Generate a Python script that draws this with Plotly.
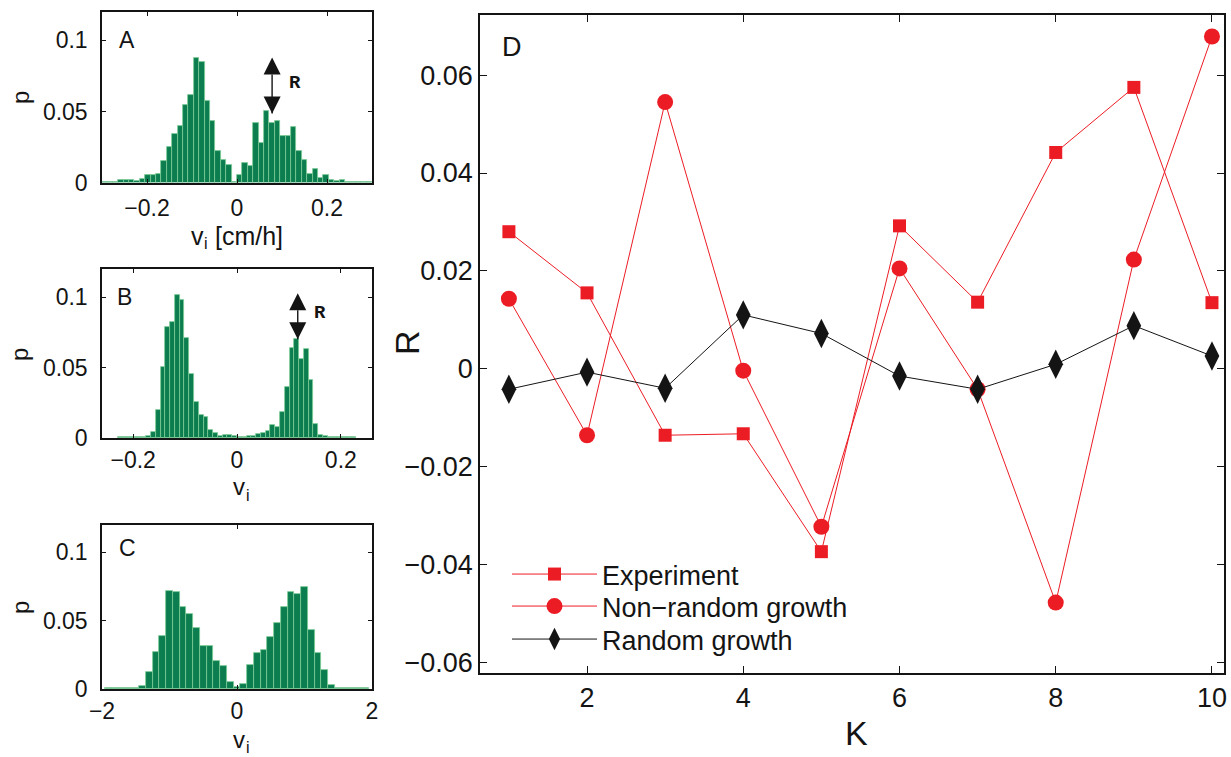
import numpy as np
import plotly.graph_objects as go

# ---------------- Panel D data ----------------
K = [1, 2, 3, 4, 5, 6, 7, 8, 9, 10]
R_experiment = [0.0280, 0.0155, -0.0136, -0.0133, -0.0374, 0.0292, 0.0136, 0.0442, 0.0575, 0.0135]
R_nonrandom = [0.0143, -0.0136, 0.0545, -0.0004, -0.0323, 0.0205, -0.0042, -0.0478, 0.0223, 0.0679]
R_random = [-0.0042, -0.0007, -0.0040, 0.0110, 0.0072, -0.0015, -0.0042, 0.0009, 0.0088, 0.0026]
series_names = ["Experiment", "Non\u2212random growth", "Random growth"]

# ---------------- Histogram A ----------------
A_start, A_width = -0.3, 0.012
A_p = [0.0005, 0.0005, 0.0005, 0.002, 0.002, 0.002, 0.001, 0.0024, 0.005, 0.005,
       0.0057, 0.015, 0.0253, 0.034, 0.0395, 0.0547, 0.0614, 0.0873, 0.085, 0.0577,
       0.043, 0.0225, 0.016, 0.012, 0.0005, 0.005, 0.0136, 0.0113, 0.042, 0.028,
       0.050, 0.042, 0.0435, 0.033, 0.033, 0.039, 0.0225, 0.016, 0.006, 0.0097,
       0.0034, 0.0055, 0.002, 0.001, 0.0015, 0.0005, 0.0005, 0.0005, 0.0005, 0.0005]

# ---------------- Histogram B ----------------
B_start, B_width = -0.23, 0.0092
B_p = [0.001, 0.001, 0.001, 0.001, 0.001, 0.001, 0.0012, 0.0045, 0.020, 0.0507,
       0.079, 0.0826, 0.1016, 0.0977, 0.0707, 0.0458, 0.0256, 0.0162, 0.015, 0.006,
       0.0033, 0.0016, 0.0023, 0.0023, 0.0014, 0.001, 0.001, 0.0012, 0.0016, 0.0026,
       0.0033, 0.005, 0.009, 0.008, 0.0185, 0.036, 0.064, 0.070, 0.056, 0.063,
       0.041, 0.010, 0.002, 0.0015, 0.001, 0.001, 0.0008, 0.0008, 0.0005, 0.0005]

# ---------------- Histogram C ----------------
C_start, C_width = -1.95, 0.1
C_p = [0.0005, 0.0005, 0.0005, 0.0005, 0.0005, 0.002, 0.0125, 0.027, 0.0387, 0.072,
       0.0713, 0.060, 0.055, 0.0449, 0.0316, 0.0314, 0.0203, 0.0169, 0.0049, 0.0012,
       0.0034, 0.0174, 0.026, 0.0287, 0.038, 0.048, 0.060, 0.071, 0.0698, 0.0745,
       0.043, 0.0267, 0.014, 0.003, 0.0008, 0.0005, 0.0005, 0.0005, 0.0005]

# Double arrows marking R (x position, lower tip, upper tip) and label position
A_arrow = dict(x=0.078, y_low=0.0486, y_high=0.088, label_x=0.129, label_y=0.0697)
B_arrow = dict(x=0.117, y_low=0.0702, y_high=0.1028, label_x=0.160, label_y=0.0887)

W, H = 1231, 757
FONT = "Liberation Sans, Arial, Helvetica, sans-serif"
NARROW = "Liberation Sans Narrow, Arial Narrow, Liberation Sans, sans-serif"
MONO = "Courier New, Nimbus Mono PS, FreeMono, DejaVu Serif"
RED = "rgb(236,28,36)"
BLACK = "rgb(20,20,20)"
GREEN = "rgb(11,125,79)"
GREEN_EDGE = "rgb(125,205,150)"


def px_x(v):
    return v / W


def px_y(v):
    return 1 - v / H


fig = go.Figure()

hist_specs = [
    ("x", "y", A_start, A_width, A_p),
    ("x2", "y2", B_start, B_width, B_p),
    ("x3", "y3", C_start, C_width, C_p),
]
for xa, ya, start, width, vals in hist_specs:
    centers = start + width * (np.arange(len(vals)) + 0.5)
    fig.add_trace(go.Bar(
        x=centers, y=vals, width=width, xaxis=xa, yaxis=ya,
        marker=dict(color=GREEN, line=dict(color=GREEN_EDGE, width=0.8)),
        showlegend=False, hoverinfo="skip"))

# R double arrows (shaft + arrow-tip markers whose point sits on the data point)
for a, xa, ya in [(A_arrow, "x", "y"), (B_arrow, "x2", "y2")]:
    fig.add_trace(go.Scatter(
        x=[a["x"], a["x"]], y=[a["y_low"], a["y_high"]], xaxis=xa, yaxis=ya,
        mode="lines+markers", line=dict(color=BLACK, width=1.4),
        marker=dict(symbol=["arrow-down", "arrow-up"], size=17, color=BLACK,
                    line=dict(width=0)),
        showlegend=False, hoverinfo="skip"))

line_specs = [
    (R_experiment, series_names[0], RED, "square", 13, "legend"),
    (R_nonrandom, series_names[1], RED, "circle", 16, "legend2"),
    (R_random, series_names[2], BLACK, "diamond-tall", 21, "legend3"),
]
for vals, name, col, sym, size, leg in line_specs:
    fig.add_trace(go.Scatter(
        x=K, y=vals, xaxis="x4", yaxis="y4", mode="lines+markers", name=name,
        line=dict(color=col, width=1), marker=dict(symbol=sym, size=size, color=col),
        legend=leg))

axis_common = dict(showline=True, linecolor=BLACK, linewidth=1.5, mirror="ticks",
                   ticks="inside", tickcolor=BLACK, showgrid=False, zeroline=False,
                   automargin=False,
                   tickfont=dict(family=FONT, size=23, color=BLACK))

hx0, hx1 = px_x(102), px_x(372)
leg_common = dict(xref="paper", yref="paper", xanchor="left", yanchor="top",
                  bgcolor="rgba(0,0,0,0)", borderwidth=0, itemwidth=85,
                  font=dict(family=NARROW, size=27, color=BLACK))
fig.update_layout(
    template="none",
    width=W, height=H, margin=dict(l=0, r=0, t=0, b=0, pad=0), autosize=False,
    paper_bgcolor="white", plot_bgcolor="white", bargap=0,
    xaxis=dict(axis_common, domain=[hx0, hx1], range=[-0.3, 0.3], tickvals=[-0.2, 0, 0.2],
               anchor="y", ticklen=4, ticklabelstandoff=4),
    yaxis=dict(axis_common, domain=[px_y(182.5), px_y(12)], range=[0, 0.12],
               tickvals=[0, 0.05, 0.1], anchor="x", ticklen=4, ticklabelstandoff=8),
    xaxis2=dict(axis_common, domain=[hx0, hx1], range=[-0.26, 0.26], tickvals=[-0.2, 0, 0.2],
                anchor="y2", ticklen=4, ticklabelstandoff=1),
    yaxis2=dict(axis_common, domain=[px_y(438), px_y(269)], range=[0, 0.12],
                tickvals=[0, 0.05, 0.1], anchor="x2", ticklen=4, ticklabelstandoff=8),
    xaxis3=dict(axis_common, domain=[hx0, hx1], range=[-2, 2], tickvals=[-2, 0, 2],
                anchor="y3", ticklen=4, ticklabelstandoff=1),
    yaxis3=dict(axis_common, domain=[px_y(689), px_y(525)], range=[0, 0.12],
                tickvals=[0, 0.05, 0.1], anchor="x3", ticklen=4, ticklabelstandoff=8),
    xaxis4=dict(axis_common, domain=[px_x(480), px_x(1224)], range=[0.63, 10.154],
                tickvals=[2, 4, 6, 8, 10], anchor="y4", ticklen=7, ticklabelstandoff=0,
                tickfont=dict(family=NARROW, size=27, color=BLACK)),
    yaxis4=dict(axis_common, domain=[px_y(673), px_y(15)], range=[-0.0622, 0.0723],
                tickvals=[-0.06, -0.04, -0.02, 0, 0.02, 0.04, 0.06], anchor="x4",
                ticklen=7, ticklabelstandoff=0,
                tickfont=dict(family=NARROW, size=27, color=BLACK)),
    legend=dict(leg_common, x=px_x(507), y=px_y(550)),
    legend2=dict(leg_common, x=px_x(507), y=px_y(582)),
    legend3=dict(leg_common, x=px_x(507), y=px_y(615)),
)

ann = []


def label(text, xx, yy, size, family=FONT, angle=0, xanchor="center"):
    ann.append(dict(text=text, x=px_x(xx), y=px_y(yy), xref="paper", yref="paper",
                    xanchor=xanchor, yanchor="middle", showarrow=False, textangle=angle,
                    font=dict(family=family, size=size, color=BLACK)))


def v_sub_i(x_left, y_mid, size=25, suffix=""):
    # "v" with subscript "i" (drawn as separate texts), optional suffix text
    label("v", x_left, y_mid, size, xanchor="left")
    label("i", x_left + 13, y_mid + 8, 16, xanchor="left")
    if suffix:
        label(suffix, x_left + 24, y_mid, size, xanchor="left")


# Panel letters
label("A", 127, 40, 23)
label("B", 125, 297, 23)
label("C", 127, 548, 23)
label("D", 512, 47, 27, NARROW)
# Axis titles of histograms
for yy in [97, 354, 607]:
    label("p", 20, yy, 24, angle=-90)
v_sub_i(189, 236, 25, "[cm/h]")
v_sub_i(231, 487, 24)
v_sub_i(231, 739, 24)
# Axis titles of D
label("R", 407, 342, 34, NARROW, angle=-90)
label("K", 856, 733, 34, NARROW)

# "R" labels next to arrows
for a, xa, ya in [(A_arrow, "x", "y"), (B_arrow, "x2", "y2")]:
    ann.append(dict(text="<b>R</b>", x=a["label_x"], y=a["label_y"], xref=xa, yref=ya,
                    xanchor="center", yanchor="middle", showarrow=False,
                    font=dict(family=MONO, size=19, color=BLACK)))

fig.update_layout(annotations=ann)
fig.write_html("out.html", config={"displayModeBar": False},
               post_script="document.body.style.margin='0px';")
